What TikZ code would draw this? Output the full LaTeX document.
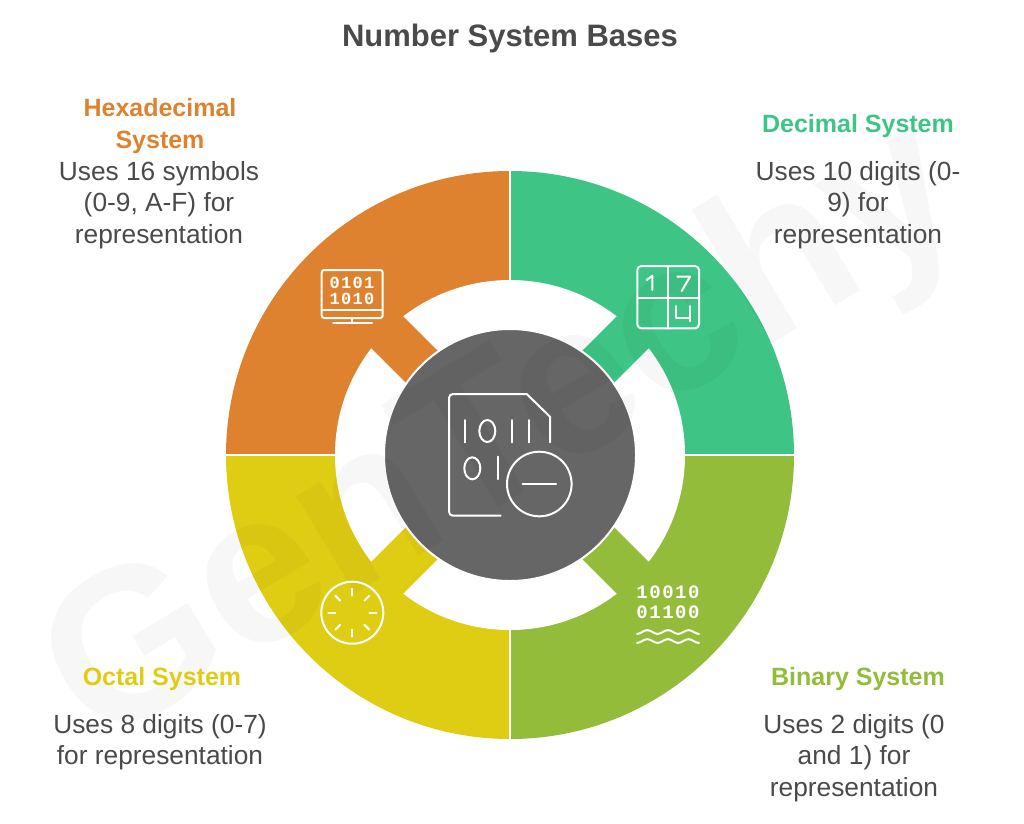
\documentclass[tikz,border=0pt]{standalone}
\usepackage{fontspec}
\setmainfont{Liberation Sans}
\newfontfamily\icondigitfont[LetterSpace=8]{Liberation Mono}
\definecolor{hexcol}{HTML}{DF8230}
\definecolor{deccol}{HTML}{3EC586}
\definecolor{bincol}{HTML}{92BC3A}
\definecolor{octcol}{HTML}{DFCD14}
\definecolor{hubcol}{HTML}{666666}
\definecolor{inkcol}{HTML}{4A4A4A}
\tikzset{
    headtext/.style={align=center, inner sep=0pt, font=\fontsize{25}{31.5}\selectfont\bfseries},
    bodytext/.style={align=center, inner sep=0pt, text=inkcol, font=\fontsize{26.3}{31.5}\selectfont},
    iconline/.style={draw=white, line width=2pt, line cap=round, line join=round},
    icondigits/.style={inner sep=0pt, text=white, font=\fontsize{#1}{#1}\selectfont\icondigitfont\bfseries}
}
\begin{document}
\begin{tikzpicture}[x=1pt, y=-1pt]
    \useasboundingbox (0,0) rectangle (1024,823);
    \def\cx{510}
    \def\cy{455}
    \def\rout{284}
    \def\rring{175}
    % the four quarters, each one with its arm towards the hub
    \foreach \a/\c in {0/bincol, 90/octcol, 180/hexcol, 270/deccol}{
        \fill[\c] (\cx,\cy) -- ++(\a:\rout) arc[start angle=\a, delta angle=90, radius=\rout] -- cycle;
    }
    \fill[white] (\cx,\cy) circle[radius=\rring];
    \foreach \a/\c in {45/bincol, 135/octcol, 225/hexcol, 315/deccol}{
        \fill[\c, rotate around={-\a:(\cx,\cy)}] (\cx+100,\cy-22.6) rectangle (\cx+200,\cy+22.6);
    }
    \draw[white, line width=2pt] (\cx,\cy-\rout-2)--(\cx,\cy-\rring) (\cx,\cy+\rring)--(\cx,\cy+\rout+2)
        (\cx-\rout-2,\cy)--(\cx-\rring,\cy) (\cx+\rring,\cy)--(\cx+\rout+2,\cy);
    \node[circle, fill=hubcol, draw=white, line width=2pt, minimum size=252pt, inner sep=0pt] (hub) at (\cx,\cy) {};
    % faint mark across the whole picture
    \node[rotate=31, opacity=0.03, text=black, inner sep=0pt, font=\fontsize{215}{215}\selectfont\bfseries] (mark) at (507,438) {GenTechy};
    % hub icon
    \draw[iconline] (500.7,515.7) -- (453,515.7) arc[start angle=90, delta angle=90, radius=4] -- (449,398)
        arc[start angle=180, delta angle=90, radius=4] -- (526.7,394) -- (550,416.7) -- (550,442.3);
    \foreach \x in {465,512.3,529}{
        \draw[iconline] (\x,420) -- (\x,442.3);
    }
    \draw[iconline] (487.3,431) ellipse[x radius=8, y radius=11];
    \draw[iconline] (472.3,468.3) ellipse[x radius=8, y radius=11];
    \draw[iconline] (497.7,456.7) -- (497.7,479);
    \draw[iconline] (539.3,484) circle[radius=32.3];
    \draw[iconline] (522.7,484) -- (556,484);
    % hexadecimal icon
    \draw[iconline, rounded corners=2.5pt] (321.7,270) rectangle (382.7,318);
    \draw[iconline] (321.7,310) -- (382.7,310) (351.7,318) -- (351.7,323) (333,323) -- (372,323);
    \node[icondigits=17] (hexrowa) at (352,283) {0101};
    \node[icondigits=17] (hexrowb) at (352,299) {1010};
    % decimal icon
    \draw[iconline, rounded corners=4pt] (637.3,266) rectangle (699,328.3);
    \draw[iconline] (667.7,266) -- (667.7,328.3) (637.3,297.7) -- (699,297.7);
    \draw[iconline] (646.7,280) -- (652.3,275.7) -- (652.3,290);
    \draw[iconline] (677.3,276.7) -- (690,276.7) -- (681.7,291);
    \draw[iconline] (675.7,306) -- (675.7,318) -- (689.5,318) (689.5,306) -- (689.5,321);
    % binary icon
    \node[icondigits=19] (binrowa) at (668,592) {10010};
    \node[icondigits=19] (binrowb) at (668,612) {01100};
    \foreach \y in {632,641}{
        \draw[iconline] plot[domain=0:62, samples=60, smooth] ({637+\x}, {\y+1.8*cos(\x*17.476)});
    }
    % octal icon
    \draw[iconline] (352.3,612.7) circle[radius=31];
    \foreach \a in {0,45,...,315}{
        \draw[iconline] (352.3,612.7) ++(\a:17) -- ++(\a:7);
    }
    % texts
    \node[text=inkcol, inner sep=0pt, font=\fontsize{31}{31}\selectfont\bfseries] (title) at (510,38) {Number System Bases};
    \node[headtext, text=hexcol] (hexhead) at (160,126) {Hexadecimal\\System};
    \node[bodytext] (hexbody) at (159,205) {Uses 16 symbols\\(0-9, A-F) for\\representation};
    \node[headtext, text=deccol] (dechead) at (858,126) {Decimal System};
    \node[bodytext] (decbody) at (858,205) {Uses 10 digits (0-\\9) for\\representation};
    \node[headtext, text=bincol] (binhead) at (858,679) {Binary System};
    \node[bodytext] (binbody) at (854,758) {Uses 2 digits (0\\and 1) for\\representation};
    \node[headtext, text=octcol] (octhead) at (162,679) {Octal System};
    \node[bodytext] (octbody) at (160,742) {Uses 8 digits (0-7)\\for representation};
\end{tikzpicture}
\end{document}
